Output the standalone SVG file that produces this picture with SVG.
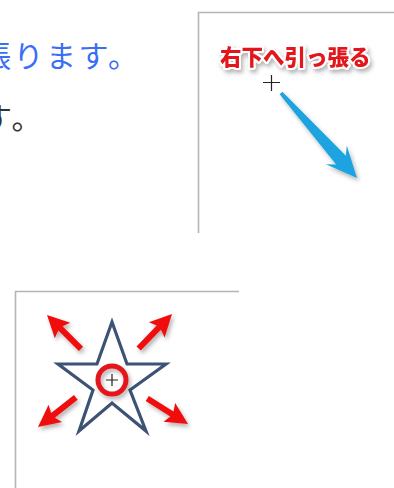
<svg xmlns="http://www.w3.org/2000/svg" xmlns:xlink="http://www.w3.org/1999/xlink" width="394" height="488" viewBox="0 0 394 488">
  <style>
    .body { font-family: "Noto Sans CJK JP", "Noto Sans", sans-serif; font-size: 30px; letter-spacing: 2.5px; }
    .link { fill: #3a6ef5; }
    .plain { fill: #333333; }
    .frame { stroke: #b4b4b4; stroke-width: 1.6; fill: none; }
    .cross { stroke: #222222; stroke-width: 1.2; fill: none; }
    .label { font-family: "Noto Sans CJK JP", sans-serif; font-weight: 900; font-size: 21.5px; fill: #e3141c; stroke: #ffffff; stroke-width: 4; paint-order: stroke; stroke-linejoin: round; }
    .star { fill: none; stroke: #3d5375; stroke-width: 3.2; stroke-linejoin: miter; }
    .ring { fill: none; stroke: #e2141a; stroke-width: 5; }
    .red { fill: #f01010; }
    .blue { fill: #1ca3e0; }
  </style>
  <defs>
    <filter id="sh" x="-30%" y="-30%" width="160%" height="160%">
      <feDropShadow dx="2" dy="3" stdDeviation="2" flood-color="#000" flood-opacity="0.3"/>
    </filter>
    <polygon id="redArrow" points="-48,-3 -19,-3 -22,-11 0,0 -22,11 -19,3 -48,3"/>
  </defs>

  <g id="text-lines">
    <text class="body link" x="-19" y="67">張ります。</text>
    <text class="body plain" x="-18" y="129">す。</text>
  </g>

  <g id="panel-top">
    <path class="frame" d="M198.5,233 V12.5 H394"/>
    <text class="label" x="220" y="65" filter="url(#sh)">右下へ引っ張る</text>
    <path class="cross" d="M263,82.5 H280 M271.5,75 V91"/>
    <g id="blue-arrow" filter="url(#sh)">
      <polygon class="blue" transform="translate(357,178) rotate(48.2)" points="-114,-1.8 -24,-6.5 -31,-14 0,0 -31,14 -24,6.5 -114,1.8"/>
    </g>
  </g>

  <g id="panel-bottom">
    <path class="frame" d="M15.5,488 V291.5 H239"/>
    <g id="star">
      <polygon class="star" points="112,322 127,364 166,364 130,390 146,431 112,403 79,431 93,390 58,364 97,364"/>
    </g>
    <g id="center-marker">
      <circle class="ring" cx="112" cy="380" r="14" filter="url(#sh)"/>
      <path class="cross" d="M106,380 H118 M112,374 V386"/>
    </g>
    <g id="red-arrows" filter="url(#sh)">
      <use xlink:href="#redArrow" class="red" transform="translate(47,315) rotate(-135)"/>
      <use xlink:href="#redArrow" class="red" transform="translate(172,314) rotate(-46)"/>
      <use xlink:href="#redArrow" class="red" transform="translate(38,427) rotate(142)"/>
      <use xlink:href="#redArrow" class="red" transform="translate(188,424) rotate(32)"/>
    </g>
  </g>
</svg>
